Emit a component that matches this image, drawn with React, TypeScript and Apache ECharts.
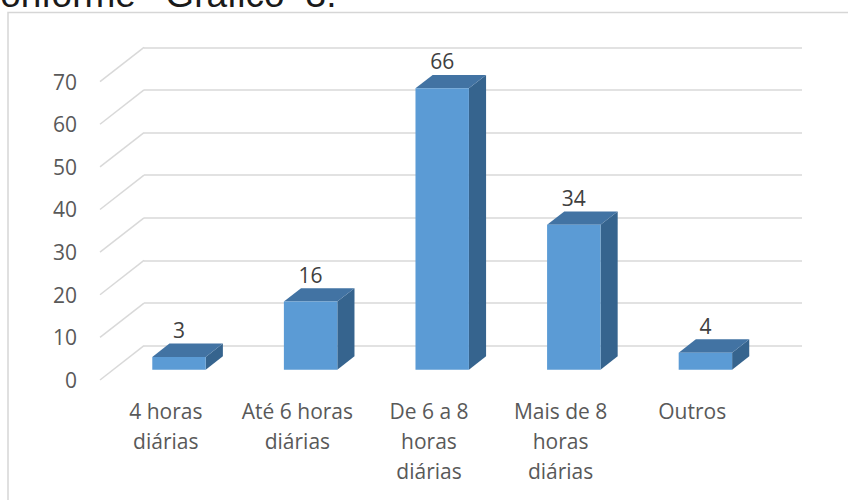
import React, { useEffect, useRef } from 'react';
import * as echarts from 'echarts';

const categories = [
  '4 horas\ndiárias',
  'Até 6 horas\ndiárias',
  'De 6 a 8\nhoras\ndiárias',
  'Mais de 8\nhoras\ndiárias',
  'Outros',
];
const values = [3, 16, 66, 34, 4];
const yTicks = [0, 10, 20, 30, 40, 50, 60, 70];
const titleWords = ['onforme', 'Gráfico', '3.'];
const titleCenters = [68, 225, 321];

// projection vector from back wall to front edge of the floor
const DEPTH_X = -44;
const DEPTH_Y = 34.3;
const FRONT_T = 0.7;
const BACK_T = 0.31;

const FONT = "'Open Sans', 'Noto Sans', sans-serif";

export default function App() {
  const ref = useRef<HTMLDivElement>(null);
  useEffect(() => {
    const chart = echarts.init(ref.current!, null, { renderer: 'svg' });
    const option: any = {
      animation: false,
      backgroundColor: '#ffffff',
      grid: [
        { left: 144, top: 47.3, width: 658, height: 298.4 },
        { left: 100, top: 81.6, width: 658, height: 298.4 },
      ],
      xAxis: [
        {
          type: 'category', gridIndex: 0, data: categories,
          axisLine: { show: false }, axisTick: { show: false },
          axisLabel: { show: false }, splitLine: { show: false },
        },
        {
          type: 'category', gridIndex: 1, data: categories,
          axisLine: { show: false }, axisTick: { show: false },
          splitLine: { show: false },
          axisLabel: {
            interval: 0, margin: 16, fontSize: 21, lineHeight: 30,
            color: '#595959', fontFamily: FONT,
          },
        },
      ],
      yAxis: [
        {
          type: 'value', gridIndex: 0, min: 0, max: 70, interval: 10,
          axisLabel: { show: false }, axisLine: { show: false }, axisTick: { show: false },
          splitLine: { lineStyle: { color: '#d9d9d9', width: 1.5 } },
        },
        {
          type: 'value', gridIndex: 1, min: 0, max: 70, interval: 10,
          axisLine: { show: false }, axisTick: { show: false }, splitLine: { show: false },
          axisLabel: { margin: 23, fontSize: 21, color: '#595959', fontFamily: FONT },
        },
      ],
      series: [
        {
          type: 'custom', xAxisIndex: 0, yAxisIndex: 0, silent: true, z: 1,
          data: yTicks.map((v) => [0, v]),
          renderItem: (params: any, api: any) => {
            const cs = params.coordSys;
            const y = api.coord([0, api.value(1)])[1];
            return {
              type: 'line',
              shape: { x1: cs.x, y1: y, x2: cs.x + DEPTH_X, y2: y + DEPTH_Y },
              style: { stroke: '#d9d9d9', lineWidth: 1.5 },
            };
          },
        },
        {
          type: 'custom', xAxisIndex: 0, yAxisIndex: 0, z: 3,
          data: values.map((v, i) => [i, v]),
          renderItem: (params: any, api: any) => {
            const i = api.value(0);
            const v = api.value(1);
            const base = api.coord([i, 0]);
            const top = api.coord([i, v]);
            const band = api.size([1, 0])[0];
            const w = band * 0.406;
            const fx = base[0] + DEPTH_X * FRONT_T;
            const yb = base[1] + DEPTH_Y * FRONT_T;
            const yt = top[1] + DEPTH_Y * FRONT_T;
            const dx = DEPTH_X * (BACK_T - FRONT_T);
            const dy = DEPTH_Y * (BACK_T - FRONT_T);
            const xl = fx - w / 2;
            const xr = fx + w / 2;
            return {
              type: 'group',
              children: [
                {
                  type: 'polygon',
                  shape: { points: [[xr, yb], [xr, yt], [xr + dx, yt + dy], [xr + dx, yb + dy]] },
                  style: { fill: '#36648e' },
                },
                {
                  type: 'polygon',
                  shape: { points: [[xl, yt], [xr, yt], [xr + dx, yt + dy], [xl + dx, yt + dy]] },
                  style: { fill: '#4273a3' },
                },
                {
                  type: 'rect',
                  shape: { x: xl, y: yt, width: w, height: yb - yt },
                  style: { fill: '#5b9bd5' },
                },
                {
                  type: 'text',
                  style: {
                    text: String(v), x: fx, y: yt - 27, align: 'center', verticalAlign: 'middle',
                    fontSize: 21, fontFamily: FONT, fill: '#404040',
                  },
                },
              ],
            };
          },
        },
      ],
      graphic: [
        {
          type: 'rect', silent: true,
          shape: { x: 8, y: 12.5, width: 900, height: 600 },
          style: { fill: 'none', stroke: '#d6d6d6', lineWidth: 1.5 },
        },
        ...titleWords.map((t, k) => ({
          type: 'text', silent: true,
          style: {
            text: t, x: titleCenters[k], y: -5.5, align: 'center', verticalAlign: 'middle',
            fontSize: 37, fontFamily: "'Liberation Sans', Arial, sans-serif", fill: '#1a1a1a',
          },
        })),
      ],
    };
    chart.setOption(option);
    return () => chart.dispose();
  }, []);
  return (
    <div
      ref={ref}
      style={{ position: 'absolute', left: 0, top: 0, width: 848, height: 500 }}
    />
  );
}
